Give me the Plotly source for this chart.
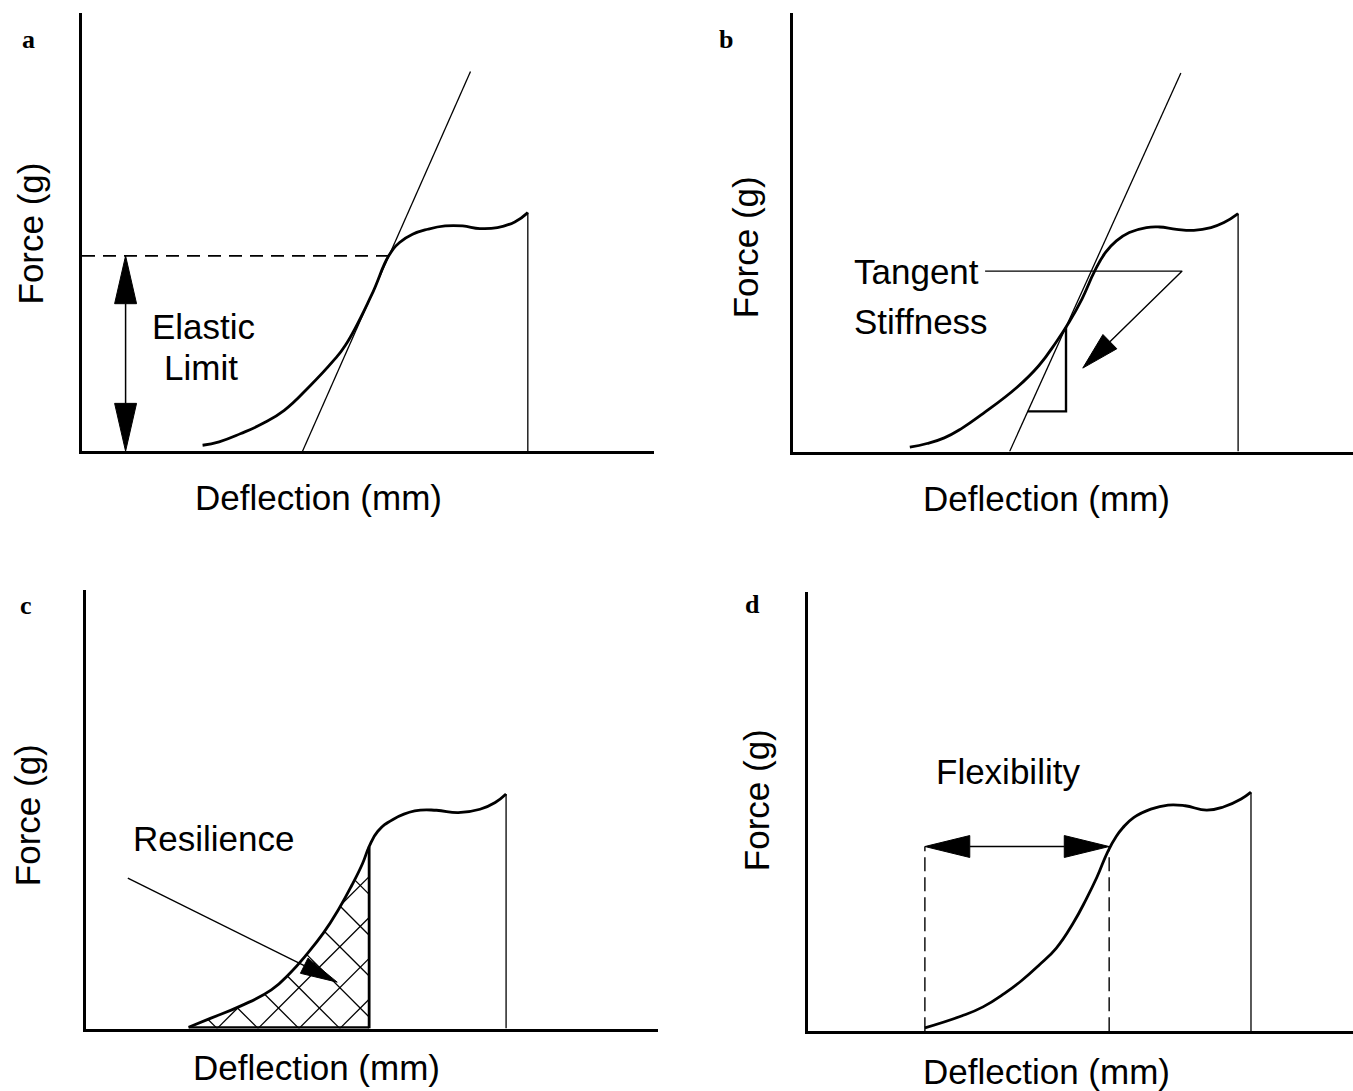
import math
import numpy as np
import plotly.graph_objects as go

FIG_W, FIG_H = 1353, 1091
INK = "black"
SANS = "Liberation Sans, Arial, Helvetica, sans-serif"
SERIF = "Liberation Serif, Times New Roman, serif"

# ---------------------------------------------------------------------------
# Values.  Both axes of every panel run 0-100 (% of the drawn axis length);
# the chart is schematic, so no numeric ticks are shown.
# ---------------------------------------------------------------------------

# (a) elastic limit
a_deflection = [21.08, 23.98, 27.78, 31.58, 35.36, 39.93, 43.73, 46.02, 50.57, 53.62,
                55.52, 57.79, 60.45, 63.49, 66.54, 69.57, 72.62, 75.66, 77.94]
a_force = [1.36, 2.14, 4.03, 6.30, 9.32, 15.01, 20.33, 24.11, 35.48, 44.58,
           47.62, 49.51, 50.65, 51.40, 51.40, 50.81, 51.03, 52.31, 54.45]
a_tangent_deflection = [38.55, 67.92]
a_tangent_force = [0.0, 86.65]
a_elastic_limit = 44.58          # force at the elastic limit
a_elastic_deflection = 53.62     # deflection where the curve leaves the tangent
a_limit_arrow_deflection = 7.62

# (b) tangent stiffness
b_deflection = [20.93, 24.00, 27.08, 30.14, 33.99, 40.12, 43.97, 47.03, 49.34, 51.64,
                53.93, 55.85, 57.78, 60.09, 63.15, 65.46, 68.52, 71.60, 74.66, 76.98, 79.50]
b_force = [0.98, 1.82, 3.11, 5.23, 8.64, 14.70, 19.61, 24.93, 29.48, 34.77,
           41.20, 45.39, 48.02, 49.93, 51.07, 51.20, 50.68, 50.45, 51.07, 52.20, 54.25]
b_tangent_deflection = [38.74, 69.29]
b_tangent_force = [0.0, 86.30]
b_triangle_force = [28.41, 9.16]           # top and bottom of the slope triangle
b_leader_deflection = [34.36, 69.52, 51.79]
b_leader_force = [41.14, 41.14, 19.02]

# (c) resilience
c_deflection = [17.94, 21.74, 27.08, 32.40, 35.82, 38.47, 41.52, 44.17, 46.45, 48.35,
                49.50, 51.02, 53.67, 57.47, 61.27, 65.07, 68.88, 71.54, 73.44]
c_force = [0.30, 2.30, 5.16, 8.80, 12.84, 16.75, 21.80, 27.20, 32.61, 37.64,
           41.50, 44.98, 47.68, 49.61, 49.77, 49.23, 50.00, 51.55, 53.48]
c_elastic_index = 10                       # last point of the shaded (elastic) region
c_arrow_deflection = [7.31, 43.92]
c_arrow_force = [34.32, 10.57]

# (d) flexibility
d_deflection = [21.52, 28.23, 32.18, 36.12, 39.27, 42.43, 45.58, 48.74, 51.10, 53.07,
                55.05, 56.62, 57.81, 59.78, 62.93, 66.09, 69.23, 73.18, 76.34, 79.49, 81.30]
d_force = [0.75, 3.45, 5.54, 8.62, 11.55, 15.02, 18.88, 24.69, 30.08, 35.10,
           40.91, 44.39, 46.32, 48.63, 50.56, 51.49, 51.33, 50.33, 51.10, 52.87, 54.42]
d_flex_start = 21.52
d_flex_end = 55.30
d_flex_force = 42.05

X_LABEL = "Deflection (mm)"
Y_LABEL = "Force (g)"
PANEL_LETTERS = ["a", "b", "c", "d"]

# ---------------------------------------------------------------------------
# Layout of the four panels, in page pixels: (left, right, top, bottom)
# ---------------------------------------------------------------------------
FRAMES = {
    "a": (80.5, 654.0, 13.0, 452.7),
    "b": (791.0, 1353.0, 13.0, 453.0),
    "c": (84.5, 658.0, 590.0, 1030.0),
    "d": (806.0, 1353.0, 592.0, 1032.7),
}
AXIS_IDS = {"a": "", "b": "2", "c": "3", "d": "4"}
AXIS_LW = 3
CURVE_LW = 2.8
HATCH_STEP_PX = 41.0     # horizontal spacing of the cross-hatch lines
HATCH_PHASE_PX = 172.5   # where a hatch "V" touches the deflection axis


def px_scale(p):
    x0, x1, yt, y0 = FRAMES[p]
    return (x1 - x0) / 100.0, (y0 - yt) / 100.0


def arrow_head(p, tip, tail, length, width):
    """Filled triangular head pointing from tail to tip (sizes in px)."""
    sx, sy = px_scale(p)
    dx, dy = (tip[0] - tail[0]) * sx, (tip[1] - tail[1]) * sy
    n = math.hypot(dx, dy)
    ux, uy = dx / n, dy / n
    bx, by = tip[0] * sx - ux * length, tip[1] * sy - uy * length
    ox, oy = -uy * width / 2, ux * width / 2
    xs = [tip[0], (bx + ox) / sx, (bx - ox) / sx, tip[0]]
    ys = [tip[1], (by + oy) / sy, (by - oy) / sy, tip[1]]
    return xs, ys, (bx / sx, by / sy)


def cross_hatch(p, xs, ys):
    """45-degree cross-hatch (in screen space) of the area under xs/ys."""
    sx, sy = px_scale(p)
    X = np.asarray(xs) * sx
    Y = np.asarray(ys) * sy
    xa, xb = X[0], X[-1]
    grid = np.arange(xa, xb + 0.25, 0.25)
    top = np.interp(grid, X, Y)
    hx, hy = [], []
    j0 = int(math.floor((xa - HATCH_PHASE_PX) / HATCH_STEP_PX)) - 1
    j1 = int(math.ceil((xb + Y.max() - HATCH_PHASE_PX) / HATCH_STEP_PX)) + 1
    for j in range(j0, j1 + 1):
        v = HATCH_PHASE_PX + j * HATCH_STEP_PX
        for sgn in (1, -1):
            line_y = sgn * (grid - v)
            inside = (line_y >= 0) & (line_y <= top)
            idx = np.flatnonzero(inside)
            if idx.size < 2:
                continue
            breaks = np.flatnonzero(np.diff(idx) > 1)
            starts = np.concatenate(([idx[0]], idx[breaks + 1]))
            ends = np.concatenate((idx[breaks], [idx[-1]]))
            for s, e in zip(starts, ends):
                if e - s < 2:
                    continue
                hx += [grid[s] / sx, grid[e] / sx, None]
                hy += [line_y[s] / sy, line_y[e] / sy, None]
    return hx, hy


fig = go.Figure()


def add_line(p, xs, ys, width, dash=None, shape="linear"):
    k = AXIS_IDS[p]
    line = dict(color=INK, width=width, dash=dash, shape=shape)
    if shape == "spline":
        line["smoothing"] = 1.3
    fig.add_trace(go.Scatter(
        x=xs, y=ys, mode="lines", xaxis="x" + k, yaxis="y" + k,
        line=line, hoverinfo="skip", connectgaps=False))


def add_head(p, tip, tail, length, width):
    k = AXIS_IDS[p]
    xs, ys, base = arrow_head(p, tip, tail, length, width)
    fig.add_trace(go.Scatter(
        x=xs, y=ys, mode="lines", fill="toself", fillcolor=INK,
        xaxis="x" + k, yaxis="y" + k,
        line=dict(color=INK, width=1), hoverinfo="skip"))
    return base


def add_curve(p, xs, ys):
    add_line(p, xs, ys, CURVE_LW, shape="spline")
    # near-vertical drop where the specimen lets go
    add_line(p, [xs[-1], xs[-1]], [ys[-1], 0], 1.3)


# ---- (a) ----
add_line("a", a_tangent_deflection, a_tangent_force, 1.3)
add_curve("a", a_deflection, a_force)
add_line("a", [0, a_elastic_deflection], [a_elastic_limit, a_elastic_limit], 1.6,
         dash="13px,8px")
top = (a_limit_arrow_deflection, a_elastic_limit)
bot = (a_limit_arrow_deflection, 0.0)
b1 = add_head("a", top, bot, 48, 22)
b2 = add_head("a", bot, top, 48, 22)
add_line("a", [b1[0], b2[0]], [b1[1], b2[1]], 1.5)

# ---- (b) ----
add_line("b", b_tangent_deflection, b_tangent_force, 1.3)
add_curve("b", b_deflection, b_force)
slope = (b_tangent_deflection[1] - b_tangent_deflection[0]) / (b_tangent_force[1] - b_tangent_force[0])
tri_x_top = b_tangent_deflection[0] + slope * b_triangle_force[0]
tri_x_bot = b_tangent_deflection[0] + slope * b_triangle_force[1]
add_line("b", [tri_x_top, tri_x_top, tri_x_bot],
         [b_triangle_force[0], b_triangle_force[1], b_triangle_force[1]], 2.4)
bb = add_head("b", (b_leader_deflection[2], b_leader_force[2]),
              (b_leader_deflection[1], b_leader_force[1]), 38, 20)
add_line("b", b_leader_deflection[:2] + [bb[0]], b_leader_force[:2] + [bb[1]], 1.4)

# ---- (c) ----
k = c_elastic_index
hx, hy = cross_hatch("c", c_deflection[:k + 1], c_force[:k + 1])
add_line("c", hx, hy, 1.3)
add_curve("c", c_deflection, c_force)
add_line("c", [c_deflection[k], c_deflection[k]], [c_force[k], 0], 2.8)
add_line("c", [c_deflection[0], c_deflection[k]], [0.2, 0.2], 2.8)
cb = add_head("c", (c_arrow_deflection[1], c_arrow_force[1]),
              (c_arrow_deflection[0], c_arrow_force[0]), 37, 17)
add_line("c", [c_arrow_deflection[0], cb[0]], [c_arrow_force[0], cb[1]], 1.4)

# ---- (d) ----
add_curve("d", d_deflection, d_force)
for xv in (d_flex_start, d_flex_end):
    add_line("d", [xv, xv], [0, d_flex_force], 1.4, dash="14px,6px")
L = (d_flex_start, d_flex_force)
R = (d_flex_end, d_flex_force)
h1 = add_head("d", L, R, 45, 22)
h2 = add_head("d", R, L, 45, 22)
add_line("d", [h1[0], h2[0]], [h1[1], h2[1]], 1.5)

# ---------------------------------------------------------------------------
# Axes
# ---------------------------------------------------------------------------
layout_axes = {}
for p, (x0, x1, yt, y0) in FRAMES.items():
    k = AXIS_IDS[p]
    half = AXIS_LW / 2
    common = dict(range=[0, 100], showgrid=False, zeroline=False, showticklabels=False,
                  ticks="", showline=True, linecolor=INK, linewidth=AXIS_LW, fixedrange=True)
    layout_axes["xaxis" + k] = dict(common, domain=[(x0 + half) / FIG_W, min(x1 / FIG_W, 1.0)],
                                    anchor="y" + k)
    layout_axes["yaxis" + k] = dict(common, domain=[1 - (y0 - half) / FIG_H, 1 - yt / FIG_H],
                                    anchor="x" + k)

# ---------------------------------------------------------------------------
# Text
# ---------------------------------------------------------------------------
ann = []


def page_text(text, px, py, size=35, angle=0, font=SANS, bold=False):
    ann.append(dict(text=("<b>%s</b>" % text) if bold else text,
                    x=px / FIG_W, y=1 - py / FIG_H, xref="paper", yref="paper",
                    xanchor="center", yanchor="middle", showarrow=False, textangle=angle,
                    font=dict(family=font, size=size, color=INK)))


def plot_text(p, text, x, y, xanchor="center"):
    k = AXIS_IDS[p]
    ann.append(dict(text=text, x=x, y=y, xref="x" + k, yref="y" + k,
                    xanchor=xanchor, yanchor="middle", showarrow=False,
                    font=dict(family=SANS, size=35, color=INK)))


# axis titles
for p, (cx, cy) in {"a": (318, 497.5), "b": (1046.7, 499), "c": (316, 1067.6), "d": (1046.7, 1071)}.items():
    page_text(X_LABEL, cx, cy)
for p, (cx, cy) in {"a": (30.5, 234), "b": (745.8, 247.5), "c": (27.2, 815), "d": (756.6, 800.6)}.items():
    page_text(Y_LABEL, cx, cy, angle=-90)

# panel letters
for letter, (cx, cy) in zip(PANEL_LETTERS, [(28.3, 40), (725.8, 39), (25.7, 605), (752.8, 604)]):
    page_text(letter, cx, cy, size=26, font=SERIF, bold=True)

plot_text("a", "Elastic", 21.19, 28.36)
plot_text("a", "Limit", 20.84, 19.15)
plot_text("b", "Tangent", 10.6, 41.0, xanchor="left")
plot_text("b", "Stiffness", 10.6, 29.7, xanchor="left")
plot_text("c", "Resilience", 22.32, 43.4)
plot_text("d", "Flexibility", 36.69, 59.2)

fig.update_layout(
    width=FIG_W, height=FIG_H, margin=dict(l=0, r=0, t=0, b=0),
    paper_bgcolor="white", plot_bgcolor="white", showlegend=False,
    annotations=ann, **layout_axes)

fig.write_html("out.html")
